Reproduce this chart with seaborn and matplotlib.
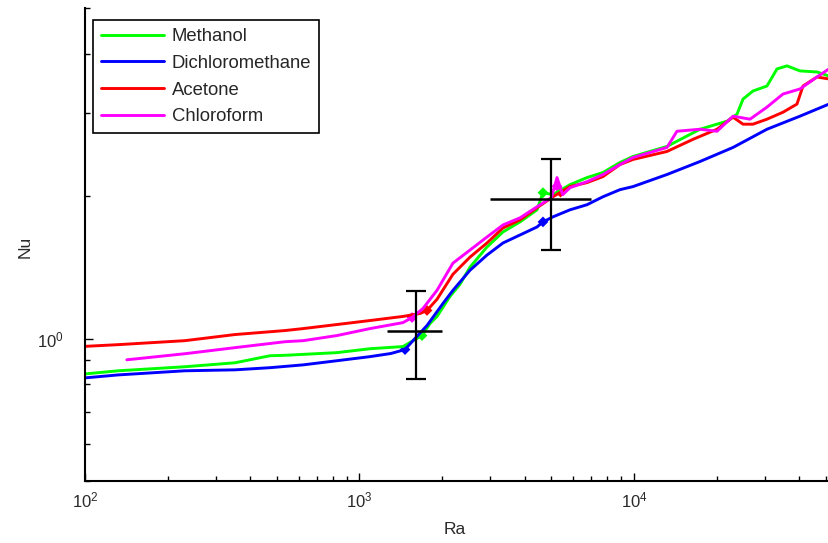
import numpy as np
import pandas as pd
import matplotlib
matplotlib.use('Agg')
import matplotlib.pyplot as plt
from matplotlib.ticker import NullFormatter, LogLocator
import seaborn as sns

#---------- Dados ----------

solvents = ['Methanol', 'Dichloromethane', 'Acetone', 'Chloroform']
colors = ['#00ff00', '#0000ff', '#ff0000', '#ff00ff']

methanol_ra = [100, 132, 231, 352, 472, 535, 828, 1092, 1440, 1689, 1806, 1916, 2136, 2324,
               2527, 2914, 3333, 3843, 4433, 4661, 5069, 5847, 6743, 7712, 8894, 9917,
               13190, 17390, 21830, 23730, 24960, 27130, 30510, 33190, 36100, 40240, 46420, 51340]
methanol_nu = [0.842, 0.855, 0.872, 0.889, 0.920, 0.922, 0.934, 0.952, 0.962, 1.015, 1.076, 1.114, 1.228, 1.303,
               1.416, 1.562, 1.681, 1.765, 1.872, 2.035, 2.015, 2.116, 2.190, 2.245, 2.357, 2.427,
               2.549, 2.771, 2.882, 2.982, 3.209, 3.338, 3.420, 3.717, 3.772, 3.681, 3.662, 3.591]

dcm_ra = [100, 132, 231, 352, 472, 623, 828, 1092, 1300, 1465, 1566, 1762, 2015, 2190, 2527,
          2914, 3333, 3843, 4433, 4661, 5069, 5847, 6743, 7712, 8894, 9917, 13190, 17390,
          22950, 30510, 40240, 51340]
dcm_nu = [0.826, 0.838, 0.855, 0.859, 0.868, 0.880, 0.898, 0.916, 0.930, 0.948, 0.990, 1.066, 1.187, 1.265, 1.395,
          1.502, 1.593, 1.656, 1.722, 1.765, 1.809, 1.872, 1.919, 1.995, 2.065, 2.096, 2.223, 2.368,
          2.536, 2.771, 2.953, 3.132]

acetone_ra = [100, 132, 231, 352, 535, 623, 828, 1092, 1440, 1661, 1762, 1916, 2190, 2527, 2914,
              3333, 3843, 4433, 5069, 5847, 6743, 7712, 8894, 9917, 13190, 16400, 20070, 22950,
              24960, 27130, 30510, 34890, 39240, 41280, 46420, 51340]
acetone_nu = [0.963, 0.971, 0.990, 1.020, 1.040, 1.050, 1.071, 1.092, 1.114, 1.130, 1.147, 1.211, 1.368, 1.487, 1.593,
              1.714, 1.783, 1.891, 1.995, 2.096, 2.137, 2.201, 2.334, 2.392, 2.487, 2.638, 2.771, 2.939,
              2.840, 2.840, 2.910, 3.010, 3.132, 3.420, 3.574, 3.539]

chloro_ra = [142, 231, 352, 535, 623, 828, 1092, 1440, 1554, 1703, 1916, 2190, 2527, 2914, 3333,
             3843, 4433, 5000, 5243, 5500, 5847, 6743, 7712, 8894, 9917, 13190, 14340, 17390,
             20070, 22950, 26460, 30510, 34890, 40240, 46420, 51340]
chloro_nu = [0.902, 0.929, 0.957, 0.985, 0.990, 1.015, 1.050, 1.081, 1.108, 1.158, 1.265, 1.444, 1.539, 1.640, 1.739,
             1.800, 1.900, 1.986, 2.190, 2.015, 2.085, 2.147, 2.223, 2.334, 2.415, 2.536, 2.744, 2.771,
             2.744, 2.953, 2.910, 3.086, 3.289, 3.371, 3.574, 3.717]

# pontos marcados (losangos) em cada curva
mark_ra = [[1689, 4661], [1465, 4661], [1762, 5400], [1554, 5243]]
mark_nu = [[1.015, 2.035], [0.948, 1.765], [1.147, 2.040], [1.108, 2.100]]

# barras de erro
err_ra = [1600, 5000]
err_nu = [1.04, 1.97]
err_ra_lo = [340, 2000]
err_ra_hi = [400, 2000]
err_nu_err = [0.22, 0.43]

#---------- Montar DataFrame ----------

all_ra = [methanol_ra, dcm_ra, acetone_ra, chloro_ra]
all_nu = [methanol_nu, dcm_nu, acetone_nu, chloro_nu]

frames = []
for name, ra, nu in zip(solvents, all_ra, all_nu):
    frames.append(pd.DataFrame({'Ra': ra, 'Nu': nu, 'solvent': name}))
df = pd.concat(frames, ignore_index=True)

marks = []
for name, ra, nu in zip(solvents, mark_ra, mark_nu):
    marks.append(pd.DataFrame({'Ra': ra, 'Nu': nu, 'solvent': name}))
df_marks = pd.concat(marks, ignore_index=True)

#---------- Plot ----------

sns.set_style('ticks')
plt.rcParams['font.family'] = ['Liberation Sans', 'DejaVu Sans']
plt.rcParams['mathtext.default'] = 'regular'

fig = plt.figure(figsize=(8.29, 5.43), dpi=100)
ax = fig.add_axes([85 / 829, 62 / 543, 744 / 829, 473 / 543])
ax.set_xscale('log')
ax.set_yscale('log')

sns.lineplot(data=df, x='Ra', y='Nu', hue='solvent', hue_order=solvents, palette=colors,
             estimator=None, sort=False, linewidth=2.1, ax=ax)
sns.scatterplot(data=df_marks, x='Ra', y='Nu', hue='solvent', hue_order=solvents, palette=colors,
                marker='D', s=30, linewidth=0, legend=False, ax=ax)

ax.errorbar(err_ra, err_nu, yerr=err_nu_err, fmt='none', ecolor='k',
            elinewidth=1.6, capsize=7, capthick=1.6, zorder=5)
ax.errorbar(err_ra, err_nu, xerr=[err_ra_lo, err_ra_hi], fmt='none', ecolor='k',
            elinewidth=1.8, capsize=0, zorder=5)

ax.set_xlim(100, 51340)
ax.set_ylim(0.5, 5)

ax.xaxis.set_minor_locator(LogLocator(base=10, subs=np.arange(2, 10)))
ax.yaxis.set_minor_locator(LogLocator(base=10, subs=np.arange(2, 10)))
ax.yaxis.set_minor_formatter(NullFormatter())
ax.xaxis.set_minor_formatter(NullFormatter())

for side in ['top', 'right']:
    ax.spines[side].set_visible(False)
for side in ['left', 'bottom']:
    ax.spines[side].set_color('k')
    ax.spines[side].set_linewidth(1.5)

ax.tick_params(which='both', direction='in', bottom=True, left=True, top=False, right=False,
               color='k', labelcolor='#2a2a2a', labelsize=12)
ax.tick_params(which='major', length=6, width=1)
ax.tick_params(which='minor', length=3.5, width=1)
ax.tick_params(axis='x', which='both', pad=7)
ax.tick_params(axis='y', which='both', pad=15)

ax.set_xlabel('Ra', fontsize=12.5, color='#2a2a2a')
ax.set_ylabel('Nu', fontsize=12.5, color='#2a2a2a')
ax.xaxis.set_label_coords(0.497, -0.087)
ax.yaxis.set_label_coords(-0.071, 0.495)

handles, labels = ax.get_legend_handles_labels()
leg = ax.legend(handles[:4], labels[:4], loc='upper left', bbox_to_anchor=(0.0108, 0.9746),
                borderaxespad=0, frameon=True, fancybox=False, framealpha=1, edgecolor='k',
                fontsize=13.3, handlelength=3.4, labelspacing=0.52, borderpad=0.45,
                handletextpad=0.4)
leg.get_frame().set_linewidth(1.2)

fig.savefig('out.png', dpi=100)
